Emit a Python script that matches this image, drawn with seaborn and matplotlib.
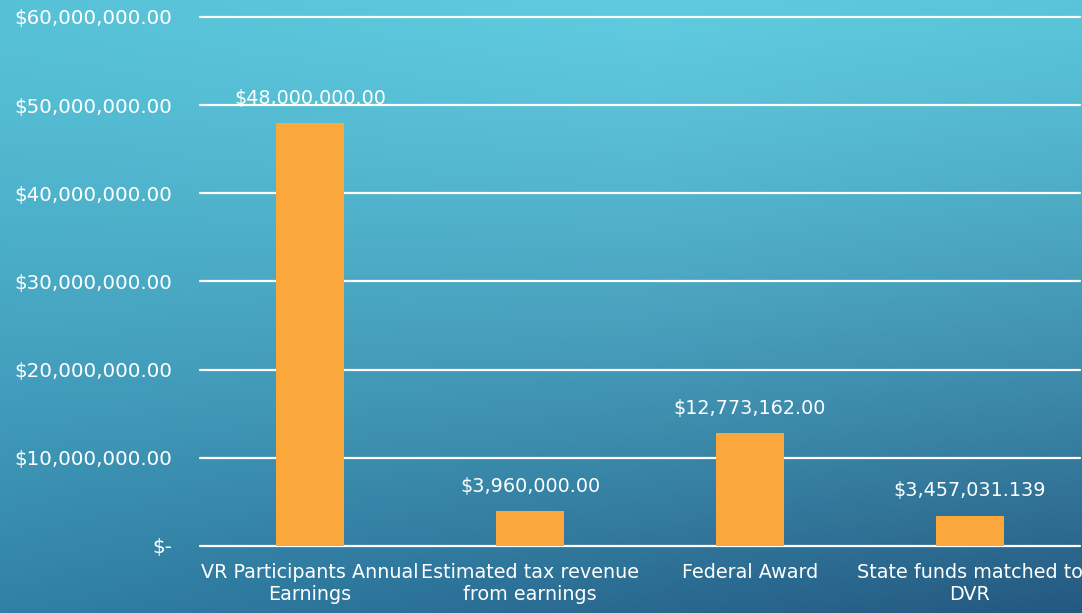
import numpy as np
import pandas as pd
import seaborn as sns
import matplotlib
matplotlib.use("Agg")
from matplotlib import pyplot as plt
from matplotlib.ticker import FuncFormatter

# chart data
categories = ["VR Participants Annual\nEarnings", "Estimated tax revenue\nfrom earnings",
              "Federal Award", "State funds matched to\nDVR"]
values = [48000000.00, 3960000.00, 12773162.00, 3457031.139]
bar_labels = ["$48,000,000.00", "$3,960,000.00", "$12,773,162.00", "$3,457,031.139"]
y_ticks = [0, 10000000, 20000000, 30000000, 40000000, 50000000, 60000000]

frame = pd.DataFrame({"item": categories, "amount": values})

sns.set_theme(style="white")
plt.rcParams['font.family'] = ['DejaVu Sans']

fig = plt.figure(figsize=(10.82, 6.13), dpi=100)

# gradient background
bg = fig.add_axes([0, 0, 1, 1], zorder=-10)
h, w = 200, 350
yy, xx = np.mgrid[0:1:h*1j, 0:1:w*1j]
top = np.array([96, 203, 224]) / 255
left_bot = np.array([48, 128, 166]) / 255
right_bot = np.array([36, 88, 128]) / 255
bottom = left_bot[None, :] * (1 - xx[..., None]) + right_bot[None, :] * xx[..., None]
t = (yy[..., None]) ** 1.3
top_img = top[None, None, :] - 0.06 * np.abs(xx[..., None] - 0.6)
img = top_img * (1 - t) + bottom * t
bg.imshow(np.clip(img, 0, 1), aspect="auto", extent=[0, 1, 0, 1], origin="upper")
bg.axis("off")

ax = fig.add_axes([0.185, 0.1093, 0.813, 0.863])
ax.patch.set_alpha(0)
sns.barplot(data=frame, x="item", y="amount", color="#FAA83C", width=0.31,
            saturation=1, ax=ax, zorder=3, edgecolor="none", linewidth=0)

ax.set_ylim(0, 60000000)
ax.set_yticks(y_ticks)
ax.yaxis.set_major_formatter(FuncFormatter(
    lambda v, p: "$-" if v == 0 else "${:,.2f}".format(v)))
ax.grid(axis="y", color="white", linewidth=1.6, zorder=1)
ax.set_axisbelow(True)
for gl in ax.get_ygridlines():
    gl.set_clip_on(False)
for s in ax.spines.values():
    s.set_visible(False)
ax.set_xlabel("")
ax.set_ylabel("")
ax.tick_params(axis="y", colors="white", labelsize=14.3, length=0, pad=20)
ax.tick_params(axis="x", colors="white", labelsize=13.8, length=0, pad=12)
for lab in ax.get_xticklabels():
    lab.set_linespacing(1.2)

for patch, txt in zip(ax.patches, bar_labels):
    ax.annotate(txt, (patch.get_x() + patch.get_width() / 2, patch.get_height()),
                xytext=(0, 11), textcoords="offset points", ha="center", va="bottom",
                color="white", fontsize=13.8)

fig.savefig("out.png", dpi=100)
